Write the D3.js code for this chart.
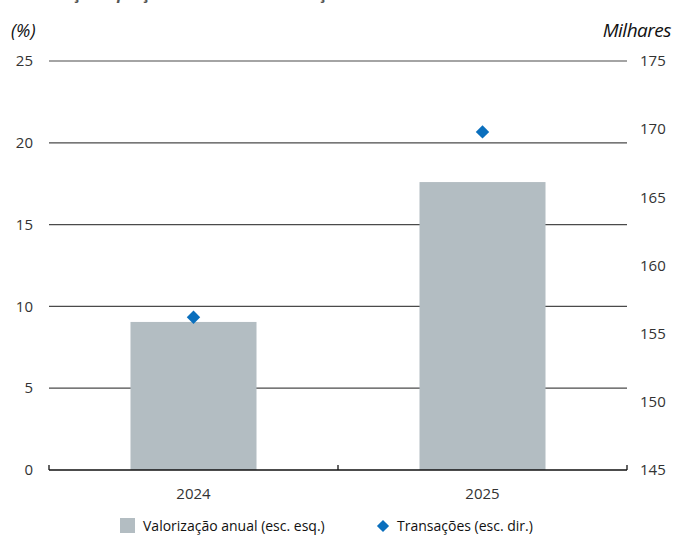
<!DOCTYPE html>
<html>
<head>
<meta charset="utf-8">
<script src="https://cdn.jsdelivr.net/npm/d3@7"></script>
<style>
  body { margin: 0; background: #fff; }
  svg { display: block; font-family: "Open Sans", "Noto Sans", sans-serif; }
  .tick_lbl { fill: #333; font-size: 15px; }
</style>
</head>
<body>
<div class="graph_container"></div>
<script>
// data
const years = ["2024", "2025"];
const valorizacao = [9.05, 17.6];     // % (left axis)
const transacoes = [156.2, 169.8];    // milhares (right axis)
const leftTicks = [0, 5, 10, 15, 20, 25];
const rightTicks = [145, 150, 155, 160, 165, 170, 175];

const W = 686, H = 536;
const x0 = 49, x1 = 627, yTop = 61, yBase = 470;

const svg = d3.select(".graph_container").append("svg").attr("width", W).attr("height", H);

// title, cut off at the top edge as in the source
svg.append("text").attr("x", 12).attr("y", -1)
  .attr("font-size", 16).attr("font-weight", "bold").attr("font-style", "italic").attr("fill", "#555")
  .text("Valorização e preços e número de transações");

const xScale = d3.scaleBand().domain(years).range([x0, x1]);
const yLeft = d3.scaleLinear().domain([0, 25]).range([yBase, yTop]);
const yRight = d3.scaleLinear().domain([145, 175]).range([yBase, yTop]);

// gridlines
svg.append("g").selectAll("line").data(leftTicks.filter(d => d > 0)).join("line")
  .attr("x1", x0).attr("x2", x1)
  .attr("y1", d => yLeft(d)).attr("y2", d => yLeft(d))
  .attr("stroke", "#4a4a4a").attr("stroke-width", 1.2);

// bars
const barW = xScale.bandwidth() * 0.436;
svg.append("g").selectAll("rect").data(years).join("rect")
  .attr("x", (d) => xScale(d) + xScale.bandwidth() / 2 - barW / 2)
  .attr("y", (d, i) => yLeft(valorizacao[i]))
  .attr("width", barW)
  .attr("height", (d, i) => yBase - yLeft(valorizacao[i]))
  .attr("fill", "#b3bdc2");

// baseline + ticks
svg.append("line").attr("x1", x0).attr("x2", x1).attr("y1", yBase).attr("y2", yBase)
  .attr("stroke", "#111").attr("stroke-width", 1.3);
const bounds = [x0, x0 + xScale.step(), x1];
svg.append("g").selectAll("line").data(bounds).join("line")
  .attr("x1", d => d).attr("x2", d => d).attr("y1", yBase - 5).attr("y2", yBase)
  .attr("stroke", "#111").attr("stroke-width", 1.3);

// diamonds
const diamond = d3.symbol().type(d3.symbolDiamond2).size(115);
svg.append("g").selectAll("path").data(years).join("path")
  .attr("d", diamond)
  .attr("transform", (d, i) => "translate(" + (xScale(d) + xScale.bandwidth() / 2) + "," + yRight(transacoes[i]) + ")")
  .attr("fill", "#0a6fbd");

// left axis labels
svg.append("g").selectAll("text").data(leftTicks).join("text")
  .attr("class", "tick_lbl").attr("x", 33).attr("y", d => yLeft(d)).attr("dy", "0.35em")
  .attr("text-anchor", "end").text(d => d);

// right axis labels
svg.append("g").selectAll("text").data(rightTicks).join("text")
  .attr("class", "tick_lbl").attr("x", 640).attr("y", d => yRight(d)).attr("dy", "0.35em")
  .text(d => d);

// x labels
svg.append("g").selectAll("text").data(years).join("text")
  .attr("class", "tick_lbl").attr("x", d => xScale(d) + xScale.bandwidth() / 2).attr("y", 499)
  .attr("text-anchor", "middle").text(d => d);

// axis titles
svg.append("text").attr("x", 11).attr("y", 37).attr("font-size", 18).attr("font-style", "italic")
  .attr("fill", "#111").text("(%)");
svg.append("text").attr("x", 671).attr("y", 37).attr("font-size", 19).attr("font-style", "italic")
  .attr("text-anchor", "end").attr("fill", "#111").attr("letter-spacing", -0.5).text("Milhares");

// legend
svg.append("rect").attr("x", 120).attr("y", 518).attr("width", 15).attr("height", 15).attr("fill", "#b3bdc2");
svg.append("text").attr("x", 143).attr("y", 531).attr("font-size", 14).attr("fill", "#111")
  .text("Valorização anual (esc. esq.)");
svg.append("path").attr("d", d3.symbol().type(d3.symbolDiamond2).size(95))
  .attr("transform", "translate(383,526)").attr("fill", "#0a6fbd");
svg.append("text").attr("x", 397).attr("y", 531).attr("font-size", 14).attr("fill", "#111")
  .text("Transações (esc. dir.)");
</script>
</body>
</html>
